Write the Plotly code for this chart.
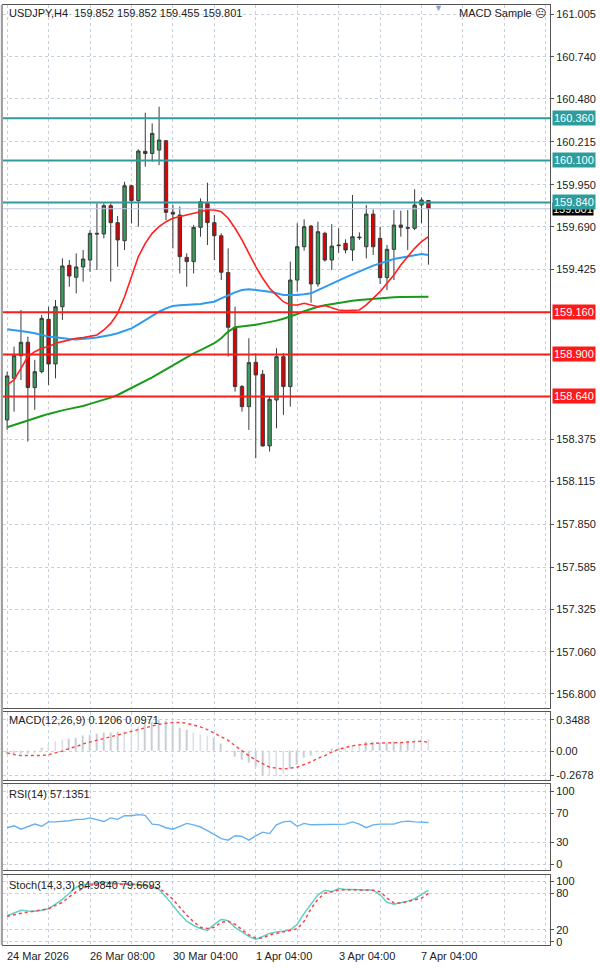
import plotly.graph_objects as go
from plotly.subplots import make_subplots

# --- data (USDJPY H4) ---
opens = [158.495, 158.752, 158.892, 158.975, 158.695, 158.793, 159.117, 158.841, 159.195, 159.451,
         159.377, 159.441, 159.484, 159.649, 159.645, 159.820, 159.715, 159.603, 159.943, 159.851,
         160.156, 160.143, 160.164, 160.222, 159.779, 159.762, 159.500, 159.474, 159.686, 159.834,
         159.715, 159.634, 159.406, 159.068, 158.701, 158.577, 158.851, 158.777, 158.334, 158.618,
         158.886, 158.701, 159.360, 159.566, 159.694, 159.336, 159.649, 159.484, 159.577, 159.587,
         159.546, 159.626, 159.566, 159.768, 159.618, 159.375, 159.550, 159.700, 159.680, 159.680,
         159.824, 159.852]
highs = [158.793, 158.948, 159.175, 159.010, 158.866, 159.144, 159.195, 159.237, 159.494, 159.484,
         159.525, 159.546, 159.669, 159.834, 159.834, 159.834, 159.756, 159.968, 159.948, 160.168,
         160.395, 160.329, 160.432, 160.226, 159.824, 159.814, 159.525, 159.700, 159.865, 159.962,
         159.762, 159.649, 159.556, 159.195, 158.711, 159.000, 158.907, 158.804, 158.639, 158.938,
         158.907, 159.474, 159.711, 159.735, 159.700, 159.721, 159.659, 159.706, 159.680, 159.612,
         159.886, 159.655, 159.824, 159.797, 159.690, 159.577, 159.793, 159.789, 159.793, 159.921,
         159.871, 159.852]
lows = [158.433, 158.546, 158.742, 158.361, 158.557, 158.783, 158.711, 158.752, 159.113, 159.319,
        159.278, 159.350, 159.412, 159.422, 159.618, 159.350, 159.443, 159.546, 159.711, 159.690,
        160.061, 160.092, 160.071, 159.731, 159.556, 159.401, 159.319, 159.401, 159.628, 159.577,
        159.484, 159.360, 158.886, 158.670, 158.546, 158.433, 158.258, 158.330, 158.299, 158.443,
        158.526, 158.577, 159.288, 159.542, 159.220, 159.319, 159.474, 159.422, 159.529, 159.525,
        159.478, 159.608, 159.494, 159.515, 159.336, 159.298, 159.360, 159.628, 159.546, 159.669,
        159.711, 159.455]
closes = [158.767, 158.892, 158.975, 158.695, 158.793, 159.123, 158.841, 159.195, 159.447, 159.385,
          159.441, 159.490, 159.649, 159.645, 159.820, 159.715, 159.608, 159.943, 159.851, 160.158,
          160.143, 160.267, 160.226, 159.779, 159.768, 159.505, 159.474, 159.686, 159.845, 159.715,
          159.634, 159.408, 159.068, 158.701, 158.577, 158.849, 158.773, 158.334, 158.622, 158.886,
          158.701, 159.360, 159.566, 159.690, 159.336, 159.659, 159.484, 159.570, 159.573, 159.546,
          159.628, 159.622, 159.768, 159.566, 159.375, 159.550, 159.700, 159.686, 159.684, 159.824,
          159.855, 159.801]

ma_red = [158.711, 158.742, 158.814, 158.886, 158.917, 158.938, 158.948, 158.969, 158.979, 158.989,
          159.000, 159.004, 159.010, 159.020, 159.051, 159.092, 159.154, 159.257, 159.381, 159.505,
          159.587, 159.649, 159.690, 159.721, 159.742, 159.752, 159.762, 159.772, 159.783, 159.793,
          159.793, 159.783, 159.742, 159.680, 159.608, 159.525, 159.443, 159.371, 159.309, 159.267,
          159.226, 159.206, 159.206, 159.216, 159.206, 159.195, 159.202, 159.189, 159.175, 159.171,
          159.171, 159.175, 159.206, 159.247, 159.288, 159.340, 159.391, 159.453, 159.505, 159.556,
          159.597, 159.628]
ma_blue = [159.055, 159.051, 159.047, 159.039, 159.031, 159.020, 159.010, 159.006, 159.000, 158.995,
           158.993, 158.995, 159.000, 159.004, 159.010, 159.020, 159.031, 159.045, 159.061, 159.086,
           159.113, 159.140, 159.164, 159.185, 159.200, 159.204, 159.206, 159.208, 159.212, 159.220,
           159.226, 159.247, 159.267, 159.284, 159.298, 159.303, 159.298, 159.294, 159.288, 159.278,
           159.267, 159.267, 159.267, 159.272, 159.278, 159.298, 159.319, 159.340, 159.360, 159.377,
           159.395, 159.414, 159.432, 159.449, 159.463, 159.478, 159.490, 159.498, 159.505, 159.513,
           159.521, 159.515]
ma_green = [158.449, 158.464, 158.478, 158.491, 158.505, 158.519, 158.532, 158.544, 158.554, 158.563,
            158.571, 158.581, 158.594, 158.606, 158.618, 158.633, 158.649, 158.670, 158.690, 158.711,
            158.732, 158.758, 158.783, 158.808, 158.835, 158.862, 158.886, 158.907, 158.927, 158.948,
            158.969, 159.000, 159.041, 159.068, 159.072, 159.078, 159.084, 159.092, 159.099, 159.109,
            159.121, 159.134, 159.150, 159.167, 159.181, 159.195, 159.204, 159.212, 159.220, 159.226,
            159.232, 159.237, 159.241, 159.245, 159.247, 159.251, 159.253, 159.255, 159.255, 159.257,
            159.257, 159.257]

macd_hist = [-0.03, -0.04, -0.03, -0.03, -0.02, 0.04, 0.07, 0.10, 0.12, 0.14,
             0.15, 0.17, 0.18, 0.19, 0.20, 0.20, 0.21, 0.23, 0.25, 0.27,
             0.30, 0.33, 0.35, 0.34, 0.30, 0.26, 0.24, 0.20, 0.18, 0.17,
             0.15, 0.08, 0.0, -0.07, -0.10, -0.13, -0.18, -0.28, -0.28, -0.28,
             -0.26, -0.20, -0.15, -0.08, -0.05, -0.01, 0.0, 0.02, 0.04, 0.05,
             0.06, 0.08, 0.10, 0.10, 0.09, 0.09, 0.10, 0.10, 0.11, 0.12,
             0.12, 0.1206]
macd_signal = [-0.02, -0.04, -0.05, -0.05, -0.05, -0.05, -0.04, -0.02, 0.0, 0.03,
               0.05, 0.08, 0.10, 0.12, 0.14, 0.16, 0.18, 0.20, 0.22, 0.24,
               0.26, 0.28, 0.30, 0.31, 0.32, 0.32, 0.31, 0.29, 0.27, 0.24,
               0.20, 0.16, 0.12, 0.06, 0.0, -0.05, -0.10, -0.14, -0.18, -0.19,
               -0.20, -0.19, -0.18, -0.15, -0.12, -0.08, -0.05, -0.01, 0.02, 0.04,
               0.06, 0.07, 0.08, 0.085, 0.09, 0.09, 0.09, 0.095, 0.10, 0.105,
               0.11, 0.0971]
rsi = [50, 52.7, 48, 52, 55, 52, 58, 58, 58.5, 59.6,
       61.5, 61.5, 63.5, 61.5, 58.5, 63.5, 61.5, 66.5, 66.5, 68,
       67, 55, 54, 50, 48, 52, 56, 54, 51, 46,
       40, 35, 33, 39, 38, 33, 39, 44, 42, 54,
       58, 59, 52, 56, 54, 54, 55, 55, 55, 55,
       58, 55, 50, 54, 55, 55, 55, 58, 59, 58,
       58, 57.1351]
stoch_main = [43, 48, 52, 51, 50.5, 52, 54.6, 62, 70, 80,
              90, 94, 96, 97, 98, 97, 95, 95, 95, 94,
              93, 90, 86, 74, 60, 46, 34, 27, 22, 19,
              29, 37, 35, 24, 16.5, 9, 4, 9, 14, 16.5,
              17.5, 20, 29, 47, 62, 77.5, 85, 82.5, 87.6, 86,
              86, 86, 86, 85, 77.5, 65, 62, 64, 67, 71,
              77.5, 84.984]
stoch_signal = [42, 45, 47, 49, 50.5, 52, 54.6, 60, 65, 74,
                82.5, 88, 93, 95, 96, 96, 95, 95, 94, 94,
                93, 91, 88, 80, 70, 57, 44, 33, 24, 22,
                24, 32, 34, 29, 20, 11.5, 6.6, 6.6, 11.5, 14,
                16.5, 19, 21.6, 34, 54.6, 70, 80, 82.5, 85, 86,
                86, 85, 85, 85, 82.5, 72, 64, 64, 66, 69,
                72, 79.6693]

teal_levels = [160.360, 160.100, 159.840]
red_levels = [159.160, 158.900, 158.640]
bid = 159.801
price_ticks = [161.005, 160.740, 160.480, 160.215, 159.950, 159.690, 159.425, 158.375,
               158.115, 157.850, 157.585, 157.325, 157.060, 156.800]
date_labels = ["24 Mar 2026", "26 Mar 08:00", "30 Mar 04:00", "1 Apr 04:00", "3 Apr 04:00", "7 Apr 04:00"]
date_idx = [0, 12, 24, 36, 48, 60]

TEAL = "#2e9c9c"
RED = "#ff1a1a"
GRID = "#c5d0e0"
FONT = "Liberation Sans"
x = list(range(len(closes)))

fig = make_subplots(rows=4, cols=1, shared_xaxes=True)

fig.add_trace(go.Candlestick(
    x=x, open=opens, high=highs, low=lows, close=closes,
    increasing=dict(fillcolor="#3a9d5d", line=dict(color="#3a3a3a", width=1)),
    decreasing=dict(fillcolor="#e00000", line=dict(color="#3a3a3a", width=1)),
    showlegend=False, hoverinfo="skip"), row=1, col=1)
fig.add_trace(go.Scatter(x=x, y=ma_green, mode="lines", line=dict(color="#1a9a1a", width=2)), row=1, col=1)
fig.add_trace(go.Scatter(x=x, y=ma_blue, mode="lines", line=dict(color="#2e9af0", width=2)), row=1, col=1)
fig.add_trace(go.Scatter(x=x, y=ma_red, mode="lines", line=dict(color="#ff2020", width=1.6)), row=1, col=1)

fig.add_trace(go.Bar(x=x, y=macd_hist, marker_color="#c8c8c8", width=0.25), row=2, col=1)
fig.add_trace(go.Scatter(x=x, y=macd_signal, mode="lines", line=dict(color="#ff4040", width=1.4, dash="dot")), row=2, col=1)
fig.add_trace(go.Scatter(x=x, y=rsi, mode="lines", line=dict(color="#66b0f0", width=1.4)), row=3, col=1)
fig.add_trace(go.Scatter(x=x, y=stoch_main, mode="lines", line=dict(color="#60d0c8", width=1.5)), row=4, col=1)
fig.add_trace(go.Scatter(x=x, y=stoch_signal, mode="lines", line=dict(color="#ff4040", width=1.5, dash="dot")), row=4, col=1)

axis_common = dict(showline=True, linecolor="#555", linewidth=1, mirror=True, automargin=False,
                   gridcolor=GRID, griddash="dot", zeroline=False,
                   side="right", ticks="outside", ticklen=3, tickcolor="#555",
                   tickfont=dict(family=FONT, size=11, color="#222"))
fig.update_xaxes(range=[-0.6, 78.6], domain=[0, 1], tickvals=list(range(0, 79, 6)),
                 showticklabels=False, showline=True, linecolor="#555", mirror=True, automargin=False,
                 gridcolor=GRID, griddash="dot", zeroline=False, rangeslider_visible=False)
fig.update_yaxes(row=1, col=1, domain=[0.2686, 0.9948], range=[156.713, 161.061],
                 tickvals=price_ticks, tickformat=".3f", **axis_common)
fig.update_yaxes(row=2, col=1, domain=[0.1942, 0.2645], range=[-0.323, 0.437],
                 tickvals=[0.3488, 0, -0.2678], ticktext=["0.3488", "0.00", "-0.2678"], **axis_common)
fig.update_yaxes(row=3, col=1, domain=[0.1012, 0.1901], range=[-8, 110],
                 tickvals=[0, 30, 70, 100], **axis_common)
fig.update_yaxes(row=4, col=1, domain=[0.0238, 0.0961], range=[-5, 110],
                 tickvals=[0, 20, 80, 100], **axis_common)

shapes = []
for lv in teal_levels:
    shapes.append(dict(type="line", xref="paper", yref="y", x0=0, x1=1, y0=lv, y1=lv,
                       line=dict(color=TEAL, width=2)))
for lv in red_levels:
    shapes.append(dict(type="line", xref="paper", yref="y", x0=0, x1=1, y0=lv, y1=lv,
                       line=dict(color=RED, width=2)))
shapes.append(dict(type="line", xref="paper", yref="y", x0=0, x1=1, y0=bid, y1=bid,
                   line=dict(color="#c0c8dc", width=1)))
shapes.append(dict(type="rect", xref="paper", yref="paper", x0=-0.004, x1=0, y0=0.0238, y1=0.9948,
                   fillcolor="#a0a0a0", line_width=0))

ann = []
lab_x = 1.004
ann.append(dict(text="159.801", xref="paper", yref="y", x=lab_x, y=bid, xanchor="left",
                showarrow=False, bgcolor="#000000", borderpad=0, font=dict(family=FONT, size=11, color="white")))
for lv in teal_levels:
    ann.append(dict(text=f"{lv:.3f}", xref="paper", yref="y", x=lab_x, y=lv, xanchor="left",
                    showarrow=False, bgcolor=TEAL, borderpad=1, font=dict(family=FONT, size=11, color="white")))
for lv in red_levels:
    ann.append(dict(text=f"{lv:.3f}", xref="paper", yref="y", x=lab_x, y=lv, xanchor="left",
                    showarrow=False, bgcolor=RED, borderpad=1, font=dict(family=FONT, size=11, color="white")))
for i, lab in zip(date_idx, date_labels):
    ann.append(dict(text=lab, xref="x", yref="paper", x=i - 0.3, y=0.0125, xanchor="left",
                    yanchor="middle", showarrow=False, font=dict(family=FONT, size=11, color="#222")))
hdr = dict(xref="paper", yref="paper", xanchor="left", yanchor="middle", showarrow=False,
           font=dict(family=FONT, size=11, color="#222"))
ann.append(dict(hdr, text="USDJPY,H4  159.852 159.852 159.455 159.801", x=0.008, y=0.987))
ann.append(dict(hdr, text="MACD(12,26,9) 0.1206 0.0971", x=0.008, y=0.256))
ann.append(dict(hdr, text="RSI(14) 57.1351", x=0.008, y=0.180))
ann.append(dict(hdr, text="Stoch(14,3,3) 84.9840 79.6693", x=0.008, y=0.086))
ann.append(dict(hdr, text="MACD Sample ☹", x=0.997, y=0.987, xanchor="right"))
ann.append(dict(hdr, text="▼", x=0.796, y=0.992, xanchor="center", font=dict(size=9, color="#8aa0c0")))

fig.update_layout(width=600, height=968, margin=dict(l=3, r=50, t=0, b=0),
                  plot_bgcolor="white", paper_bgcolor="white", showlegend=False,
                  shapes=shapes, annotations=ann, bargap=0)
fig.write_html("out.html", config={"displayModeBar": False},
               post_script="document.body.style.margin='0';document.body.style.overflow='hidden';")
